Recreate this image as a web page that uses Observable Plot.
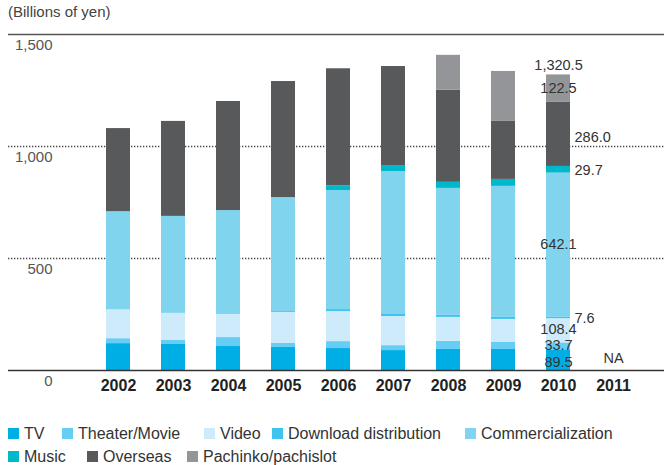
<!DOCTYPE html>
<html><head><meta charset="utf-8">
<script src="https://cdn.jsdelivr.net/npm/d3@7"></script>
<script src="https://cdn.jsdelivr.net/npm/@observablehq/plot@0.6"></script>
<style>
body{margin:0;background:#fff;font-family:"Liberation Sans",Arial,sans-serif;}
#wrap{position:relative;width:664px;height:465px;overflow:hidden;}
#unit{position:absolute;left:8px;top:3px;font-size:15px;color:#444;}
#legend{position:absolute;left:0;top:422px;width:664px;height:46px;font-size:16px;color:#333;}
.item{position:absolute;display:flex;align-items:center;height:23px;white-space:nowrap;}
.sw{width:11px;height:11px;margin-right:5px;flex:none;}
</style></head><body>
<div id="wrap"><div id="chart"></div><div id="unit">(Billions of yen)</div><div id="legend"></div></div>
<script>
const years = ["2002","2003","2004","2005","2006","2007","2008","2009","2010","2011"];
const seriesNames = ["TV","Theater/Movie","Video","Download distribution","Commercialization","Music","Overseas","Pachinko/pachislot"];
const colors = ["#00aee6","#66cdf5","#cdebfa","#3fc4f0","#80d4ee","#00b8cc","#58595b","#949599"];
const tv          = [120, 116, 107, 103,  98,  89,  94,  94,  89.5, null];
const theater     = [ 22,  18,  40,  18,  31,  22,  36,  31,  33.7, null];
const video       = [129, 121, 103, 138, 134, 130, 107, 103, 108.4, null];
const download    = [  0,   0,   3,   4,   9,   9,   9,   9,   7.6, null];
const commercial  = [438, 433, 461, 509, 531, 638, 567, 585, 642.1, null];
const music       = [  0,   0,   0,   0,  22,  27,  27,  31,  29.7, null];
const overseas    = [371, 424, 487, 518, 522, 442, 411, 259, 286.0, null];
const pachinko    = [  0,   0,   0,   0,   0,   0, 156, 223, 122.5, null];
const total2010 = "1,320.5";
const naYear = "2011";
const labelYear = "2010";
const yTicks = [0, 500, 1000, 1500];

// label styling (placement side and small vertical nudges, in px)
const labelSide = ["c","c","c","r","c","r","r","c"];
const labelNudge = [1.5, -1.5, -1, 1, -1, 1, 3, 0];
// legend layout: [row, left px]
const legendLayout = [[0,8],[0,62],[0,204],[0,272],[0,465],[1,8],[1,87],[1,187]];

const seriesValues = [tv, theater, video, download, commercial, music, overseas, pachinko];
const data = [];
seriesValues.forEach((vals, si) => {
  vals.forEach((v, yi) => {
    if (v != null) data.push({year: years[yi], series: seriesNames[si], value: v});
  });
});

// labels for 2010 segments, positioned at segment midpoints
const li = years.indexOf(labelYear);
let cum = 0;
const segLabels = seriesValues.map((vals, si) => {
  const v = vals[li];
  const mid = cum + v / 2;
  cum += v;
  return {year: labelYear, y: mid, label: v.toFixed(1), side: labelSide[si], dy: labelNudge[si]};
});
const topVal = cum;

const labelMarks = segLabels.map(d => Plot.text([d], {
  x: "year", y: "y", text: "label", fontSize: 14.5, fill: "#333",
  textAnchor: d.side === "r" ? "start" : "middle",
  dx: d.side === "r" ? 16 : 0,
  dy: d.dy
}));

const chart = Plot.plot({
  width: 664,
  height: 400,
  marginTop: 34,
  marginBottom: 30,
  marginLeft: 8,
  marginRight: 0,
  style: {fontFamily: "'Liberation Sans', Arial, sans-serif", background: "transparent"},
  x: {domain: years, paddingInner: 0.57, paddingOuter: 1.185, align: 0.714, label: null},
  y: {domain: [0, 1500], label: null},
  color: {domain: seriesNames, range: colors},
  marks: [
    Plot.ruleY([500, 1000], {stroke: "#444", strokeWidth: 1.3, strokeDasharray: "1.3,1.7"}),
    Plot.ruleY([1500], {stroke: "#555", strokeWidth: 1.3}),
    Plot.barY(data, {x: "year", y: "value", fill: "series", order: seriesNames}),
    Plot.ruleY([0], {stroke: "#333", strokeWidth: 1.6}),
    Plot.axisY({ticks: yTicks, tickSize: 0, tickFormat: d3.format(","), textAnchor: "end", dx: 53, dy: 11, fontSize: 15, fill: "#555"}),
    Plot.axisX({tickSize: 0, tickPadding: 9, fontSize: 16, fontWeight: "bold", fill: "#222"}),
    ...labelMarks,
    Plot.text([{year: labelYear, y: topVal, label: total2010}], {x: "year", y: "y", text: "label", fontSize: 14.5, fill: "#333", dy: -10}),
    Plot.text([{year: naYear, y: 0, label: "NA"}], {x: "year", y: "y", text: "label", fontSize: 14.5, fill: "#333", dy: -12})
  ]
});
document.getElementById("chart").appendChild(chart);

const legend = document.getElementById("legend");
seriesNames.forEach((name, i) => {
  const [row, left] = legendLayout[i];
  const it = document.createElement("div");
  it.className = "item";
  it.style.left = left + "px";
  it.style.top = (row * 23) + "px";
  const sw = document.createElement("span");
  sw.className = "sw";
  sw.style.background = colors[i];
  const t = document.createElement("span");
  t.textContent = name;
  it.appendChild(sw); it.appendChild(t);
  legend.appendChild(it);
});
</script>
</body></html>
